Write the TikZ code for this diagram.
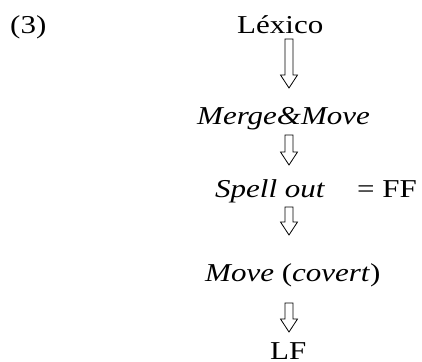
\documentclass[tikz,border=0pt]{standalone}
\usepackage{fontspec}
\setmainfont{Liberation Serif}
\usetikzlibrary{calc}
\tikzset{
  hollow/.style={line width=0.8pt, to path={let \p1=(\tikztostart), \p2=(\tikztotarget) in
    (\x1-4pt,\y1) -- (\x1-4pt,\y2+13pt) -- (\x1-8.5pt,\y2+13pt) -- (\x1,\y2)
    -- (\x1+8.5pt,\y2+13pt) -- (\x1+4pt,\y2+13pt) -- (\x1+4pt,\y1) -- cycle}}
}
\begin{document}
\begin{tikzpicture}[x=1pt, y=-1pt,
    every node/.style={inner sep=0pt, anchor=base west,
      font=\fontsize{31}{37}\selectfont, yscale=0.83}]
    \useasboundingbox (0,0) rectangle (422,361);
    \coordinate (ax) at (289,0);
    \node (num) at (10,34) {(3)};
    \node (lex) at (237,34) {Léxico};
    \node (merge) at (197,124) {\textit{Merge\&Move}};
    \node (spell) at (215,197) {\textit{Spell out}};
    \node (ff) at (357,197) {= FF};
    \node (move) at (205,281) {\textit{Move} (\textit{covert})};
    \node (lf) at (270,359) {LF};
    \draw[hollow] ($(lex.base -| ax)+(0,5)$) to ($(merge.base -| ax)+(0,-36)$);
    \draw[hollow] ($(merge.base -| ax)+(0,11)$) to ($(spell.base -| ax)+(0,-32)$);
    \draw[hollow] ($(spell.base -| ax)+(0,10)$) to ($(move.base -| ax)+(0,-46)$);
    \draw[hollow] ($(move.base -| ax)+(0,22)$) to ($(lf.base -| ax)+(0,-27)$);
\end{tikzpicture}
\end{document}
